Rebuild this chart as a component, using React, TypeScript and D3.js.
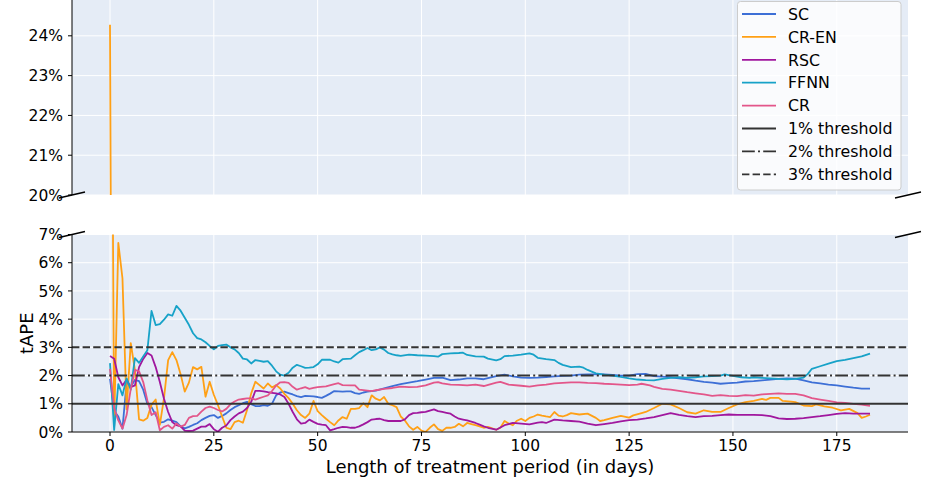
import React from 'react';
import * as d3 from 'd3';

type P = [number, number];

const X_TICKS = [0, 25, 50, 75, 100, 125, 150, 175];
const TOP_TICKS = [20, 21, 22, 23, 24];
const BOTTOM_TICKS = [0, 1, 2, 3, 4, 5, 6, 7];
const SERIES_NAMES = ['SC', 'CR-EN', 'RSC', 'FFNN', 'CR'];
const SERIES_COLORS = ['#3d6fd6', '#ffa015', '#a0179e', '#17a2c8', '#e3568a'];
const THRESHOLDS = [1, 2, 3];
const THRESHOLD_LABELS = ['1% threshold', '2% threshold', '3% threshold'];
const THRESHOLD_DASH = ['', '12.8,3.2,2,3.2', '7.4,3.2'];

const SC: P[] = [[0,1.88],[1,0.75],[2,0.55],[3,0.12],[4,1.75],[5,1.6],[6,1.85],[7,1.8],[8,1.5],[9,1.0],[10,0.88],[11,0.6],[12,0.33],[13,0.36],[14,0.45],[15,0.4],[16,0.35],[17,0.2],[18,0.13],[19,0.18],[20,0.25],[21,0.31],[22,0.42],[23,0.5],[24,0.57],[25,0.6],[26,0.5],[27,0.57],[28,0.66],[29,0.78],[30,0.88],[31,0.95],[32,1.02],[33,1.07],[34,0.99],[35,0.92],[36,0.92],[37,0.95],[38,0.93],[39,1.0],[40,1.3],[41,1.4],[42,1.43],[43,1.38],[44,1.33],[45,1.27],[46,1.24],[47,1.28],[48,1.27],[49,1.26],[50,1.24],[51,1.21],[52,1.28],[53,1.36],[54,1.45],[55,1.44],[56,1.43],[57,1.44],[58,1.44],[59,1.38],[60,1.35],[61,1.4],[62,1.43],[63,1.45],[64,1.47],[66,1.55],[68,1.63],[70,1.7],[72,1.75],[74,1.8],[76,1.86],[78,1.92],[80,1.93],[82,1.84],[84,1.86],[86,1.9],[88,1.9],[90,1.87],[93,1.98],[95,2.03],[97,1.97],[99,1.93],[101,1.92],[103,1.93],[105,1.95],[107,1.97],[109,1.99],[111,2.0],[113,2.03],[115,2.04],[117,2.04],[119,2.04],[121,2.02],[123,2.0],[125,2.0],[127,2.05],[129,2.06],[131,1.98],[133,1.96],[135,1.94],[137,1.9],[139,1.87],[141,1.82],[143,1.78],[145,1.75],[147,1.71],[149,1.73],[151,1.75],[153,1.79],[155,1.8],[157,1.83],[159,1.86],[161,1.88],[163,1.9],[165,1.89],[167,1.83],[169,1.76],[171,1.72],[173,1.68],[175,1.65],[177,1.61],[179,1.57],[181,1.54],[183,1.54]];

const CR_EN: P[] = [[0,24.28],[1,0.2],[2,6.7],[3,5.45],[4,0.8],[5,3.15],[6,2.2],[7,0.45],[8,0.4],[9,0.5],[10,0.97],[11,1.15],[12,0.25],[13,1.2],[14,2.55],[15,2.83],[16,2.55],[17,2.05],[18,1.43],[19,1.75],[20,2.3],[21,2.22],[22,2.31],[23,1.25],[24,1.78],[25,1.32],[26,0.95],[27,0.55],[28,0.15],[29,0.1],[30,0.35],[31,0.4],[32,0.33],[33,0.78],[34,1.37],[35,1.78],[36,1.66],[37,1.54],[38,1.72],[39,1.58],[40,1.66],[41,1.54],[42,1.35],[43,1.2],[44,1.0],[45,0.77],[46,0.6],[47,0.5],[48,0.65],[49,1.1],[50,0.74],[51,0.6],[52,0.47],[53,0.35],[54,0.24],[55,0.41],[56,0.53],[57,0.47],[58,0.82],[59,0.82],[60,0.85],[61,1.02],[62,0.88],[63,1.3],[64,1.18],[65,1.12],[66,1.24],[67,1.0],[68,0.95],[69,0.88],[70,0.55],[71,0.41],[72,0.2],[73,0.08],[74,0.18],[75,0.05],[76,0.0],[77,0.15],[78,0.27],[79,0.1],[80,0.04],[81,0.15],[82,0.15],[83,0.18],[84,0.29],[85,0.2],[86,0.32],[87,0.28],[88,0.24],[89,0.2],[90,0.15],[91,0.18],[93,0.08],[94,0.15],[95,0.39],[96,0.3],[97,0.24],[98,0.4],[99,0.47],[100,0.39],[101,0.5],[102,0.55],[103,0.62],[104,0.58],[105,0.55],[106,0.53],[107,0.71],[108,0.58],[109,0.55],[110,0.6],[111,0.67],[113,0.62],[115,0.65],[117,0.5],[118,0.39],[119,0.42],[121,0.5],[123,0.57],[125,0.51],[126,0.59],[128,0.67],[129,0.71],[131,0.85],[133,1.0],[135,0.98],[137,0.85],[139,0.7],[141,0.65],[143,0.77],[145,0.71],[147,0.71],[149,0.85],[151,0.98],[153,1.06],[155,1.1],[157,1.17],[158,1.14],[159,1.21],[161,1.21],[162,1.1],[164,1.08],[165,1.06],[167,0.94],[169,0.92],[170,0.98],[172,0.91],[174,0.86],[176,0.77],[178,0.82],[180,0.67],[181,0.5],[182,0.55],[183,0.61]];

const RSC: P[] = [[0,2.69],[1,2.6],[2,1.94],[3,1.65],[4,1.85],[5,1.59],[6,1.65],[7,2.3],[8,2.59],[9,2.8],[10,2.71],[11,2.3],[12,1.77],[13,1.18],[14,0.71],[15,0.35],[16,0.24],[17,0.2],[18,0.05],[19,0.04],[20,0.05],[21,0.12],[22,0.19],[23,0.19],[24,0.28],[25,0.1],[26,0.01],[27,0.15],[28,0.23],[29,0.42],[30,0.55],[31,0.66],[32,0.72],[33,0.85],[34,1.07],[35,1.46],[36,1.46],[37,1.44],[38,1.41],[39,1.39],[40,1.37],[41,1.33],[42,1.24],[43,1.0],[44,0.71],[45,0.45],[46,0.3],[47,0.32],[48,0.44],[49,0.36],[50,0.29],[51,0.26],[52,0.24],[53,0.06],[54,0.1],[55,0.15],[56,0.18],[57,0.17],[58,0.15],[59,0.15],[60,0.2],[61,0.27],[62,0.35],[63,0.44],[64,0.46],[65,0.47],[66,0.42],[67,0.39],[68,0.39],[69,0.39],[70,0.39],[71,0.45],[72,0.6],[73,0.67],[74,0.68],[75,0.7],[76,0.71],[77,0.76],[78,0.8],[79,0.74],[80,0.71],[81,0.68],[82,0.65],[83,0.55],[84,0.47],[85,0.44],[86,0.41],[87,0.37],[88,0.32],[89,0.26],[90,0.2],[91,0.15],[93,0.08],[95,0.24],[97,0.32],[99,0.3],[101,0.27],[103,0.33],[104,0.35],[105,0.32],[107,0.44],[109,0.41],[111,0.39],[113,0.37],[115,0.3],[117,0.24],[119,0.28],[121,0.32],[123,0.38],[125,0.42],[127,0.44],[129,0.48],[131,0.53],[133,0.6],[135,0.67],[137,0.61],[139,0.56],[141,0.53],[143,0.56],[145,0.57],[147,0.6],[149,0.62],[151,0.61],[153,0.61],[155,0.61],[157,0.6],[159,0.56],[161,0.48],[163,0.46],[165,0.47],[167,0.49],[169,0.53],[171,0.56],[173,0.6],[175,0.64],[177,0.67],[179,0.65],[181,0.65],[183,0.65]];

const FFNN: P[] = [[0,2.44],[1,0.07],[2,1.7],[3,1.3],[4,1.9],[5,1.5],[6,2.62],[7,2.45],[8,2.68],[9,2.9],[10,4.29],[11,3.79],[12,3.82],[13,3.98],[14,4.17],[15,4.12],[16,4.47],[17,4.3],[18,4.05],[19,3.8],[20,3.5],[21,3.33],[22,3.28],[23,3.18],[24,3.05],[25,2.93],[26,3.05],[27,3.08],[28,3.1],[29,3.0],[30,2.93],[31,2.8],[32,2.6],[33,2.57],[34,2.43],[35,2.55],[36,2.52],[37,2.49],[38,2.51],[39,2.35],[40,2.15],[41,2.03],[42,2.0],[43,2.1],[44,2.28],[45,2.38],[46,2.33],[47,2.27],[48,2.28],[49,2.3],[50,2.4],[51,2.56],[52,2.56],[53,2.56],[54,2.5],[55,2.46],[56,2.58],[57,2.59],[58,2.6],[59,2.72],[60,2.83],[61,2.9],[62,2.98],[63,2.9],[64,2.93],[65,3.0],[66,2.92],[67,2.8],[68,2.75],[69,2.72],[70,2.7],[72,2.74],[74,2.72],[76,2.71],[78,2.69],[79,2.67],[80,2.76],[82,2.79],[84,2.8],[85,2.81],[86,2.73],[88,2.68],[90,2.67],[91,2.6],[93,2.54],[94,2.58],[95,2.69],[97,2.71],[99,2.74],[101,2.79],[102,2.74],[103,2.63],[105,2.58],[107,2.55],[108,2.45],[109,2.38],[111,2.3],[113,2.32],[114,2.28],[115,2.2],[117,2.08],[119,2.03],[121,2.0],[123,1.95],[125,1.9],[127,1.86],[129,1.84],[131,1.83],[133,1.88],[135,1.92],[137,1.94],[139,1.92],[141,1.94],[143,1.97],[145,1.98],[147,2.0],[148,2.04],[150,1.99],[152,1.94],[154,1.92],[155,1.94],[157,1.92],[159,1.9],[161,1.88],[163,1.87],[165,1.88],[167,1.93],[168,2.05],[169,2.24],[171,2.33],[173,2.42],[175,2.51],[177,2.56],[179,2.62],[181,2.68],[183,2.78]];

const CR: P[] = [[0,2.24],[1,0.85],[2,0.41],[3,0.12],[4,0.6],[5,1.53],[6,2.2],[7,2.15],[8,1.77],[9,1.12],[10,0.6],[11,0.7],[12,0.06],[13,0.18],[14,0.24],[15,0.12],[16,0.3],[17,0.19],[18,0.25],[19,0.5],[20,0.56],[21,0.57],[22,0.72],[23,0.85],[24,0.9],[25,0.85],[26,0.78],[27,0.73],[28,0.82],[29,0.98],[30,1.08],[31,1.15],[32,1.17],[33,1.19],[34,1.19],[35,1.15],[36,1.2],[37,1.25],[38,1.3],[39,1.45],[40,1.65],[41,1.76],[42,1.77],[43,1.74],[44,1.6],[45,1.5],[46,1.55],[47,1.59],[48,1.53],[49,1.56],[50,1.59],[52,1.62],[54,1.7],[55,1.73],[56,1.66],[58,1.65],[59,1.65],[60,1.5],[62,1.47],[63,1.45],[64,1.48],[66,1.53],[68,1.56],[70,1.61],[72,1.59],[74,1.6],[76,1.65],[78,1.75],[79,1.77],[80,1.72],[82,1.68],[84,1.67],[86,1.65],[88,1.68],[90,1.63],[93,1.75],[94,1.78],[96,1.68],[99,1.64],[101,1.61],[103,1.65],[105,1.68],[107,1.72],[109,1.74],[111,1.76],[113,1.76],[115,1.74],[117,1.73],[119,1.71],[121,1.7],[123,1.68],[125,1.66],[127,1.68],[128,1.71],[130,1.65],[131,1.6],[133,1.53],[135,1.5],[137,1.46],[139,1.41],[141,1.37],[143,1.33],[145,1.28],[147,1.31],[149,1.28],[151,1.27],[153,1.31],[155,1.29],[157,1.33],[159,1.35],[161,1.37],[163,1.35],[165,1.35],[167,1.3],[169,1.2],[171,1.15],[173,1.1],[175,1.05],[177,1.03],[179,1.0],[181,0.97],[183,0.93]];

const SERIES_DATA = [SC, CR_EN, RSC, FFNN, CR];

const FONT = 'DejaVu Sans, sans-serif';

export default function App() {
  const W = 930, H = 482;
  const L = 72, R = 908;
  const topY0 = 0, topY1 = 195;
  const botY0 = 234.5, botY1 = 432;
  const x = d3.scaleLinear().domain([-9.15, 192.15]).range([L, R]);
  const yTop = d3.scaleLinear().domain([20, 24.9]).range([topY1, topY0]);
  const yBot = d3.scaleLinear().domain([0, 7]).range([botY1, botY0]);
  const lineTop = d3.line<P>().x(d => x(d[0])).y(d => yTop(d[1]));
  const lineBot = d3.line<P>().x(d => x(d[0])).y(d => yBot(d[1]));
  const bg = '#e5ecf6';
  const tickLen = 4;
  const tickFs = 15.5;
  const seriesW = 1.8;

  const breakMark = (cx: number, cy: number, k: string) => (
    <line key={k} x1={cx - 13} y1={cy + 3} x2={cx + 13} y2={cy - 3} stroke="#000" strokeWidth={1.3} />
  );

  const legendRows = [
    ...SERIES_NAMES.map((n, i) => ({ label: n, color: SERIES_COLORS[i], dash: '' })),
    ...THRESHOLD_LABELS.map((n, i) => ({ label: n, color: '#333', dash: THRESHOLD_DASH[i] })),
  ];

  return (
    <svg width={W} height={H} style={{ position: 'absolute', left: 0, top: 0, display: 'block', background: '#fff' }} fontFamily={FONT}>
      <defs>
        <clipPath id="clipTop"><rect x={L} y={topY0} width={R - L} height={topY1 - topY0} /></clipPath>
        <clipPath id="clipBot"><rect x={L} y={botY0} width={R - L} height={botY1 - botY0} /></clipPath>
      </defs>

      {/* Top panel */}
      <rect x={L} y={topY0} width={R - L} height={topY1 - topY0} fill={bg} />
      {TOP_TICKS.map(t => <line key={'gt' + t} x1={L} x2={R} y1={yTop(t)} y2={yTop(t)} stroke="#fff" strokeWidth={1} />)}
      {X_TICKS.map(t => <line key={'gxt' + t} x1={x(t)} x2={x(t)} y1={topY0} y2={topY1} stroke="#fff" strokeWidth={1} />)}
      <g clipPath="url(#clipTop)">
        {SERIES_DATA.map((d, i) => <path key={'st' + i} d={lineTop(d) || ''} fill="none" stroke={SERIES_COLORS[i]} strokeWidth={seriesW} strokeLinejoin="round" />)}
      </g>
      <line x1={L} x2={L} y1={topY0} y2={topY1} stroke="#000" strokeWidth={1} />
      {TOP_TICKS.map(t => (
        <g key={'tt' + t}>
          <line x1={L - tickLen} x2={L} y1={yTop(t)} y2={yTop(t)} stroke="#000" strokeWidth={1} />
          <text x={63} y={yTop(t) + 5.6} textAnchor="end" fontSize={tickFs} fill="#000">{t + '%'}</text>
        </g>
      ))}

      {/* Bottom panel */}
      <rect x={L} y={botY0} width={R - L} height={botY1 - botY0} fill={bg} />
      {BOTTOM_TICKS.map(t => <line key={'gb' + t} x1={L} x2={R} y1={yBot(t)} y2={yBot(t)} stroke="#fff" strokeWidth={1} />)}
      {X_TICKS.map(t => <line key={'gxb' + t} x1={x(t)} x2={x(t)} y1={botY0} y2={botY1} stroke="#fff" strokeWidth={1} />)}
      <g clipPath="url(#clipBot)">
        {SERIES_DATA.map((d, i) => <path key={'sb' + i} d={lineBot(d) || ''} fill="none" stroke={SERIES_COLORS[i]} strokeWidth={seriesW} strokeLinejoin="round" />)}
        {THRESHOLDS.map((t, i) => (
          <line key={'th' + t} x1={L} x2={R} y1={yBot(t)} y2={yBot(t)} stroke="#333" strokeWidth={2} strokeDasharray={THRESHOLD_DASH[i] || undefined} />
        ))}
      </g>
      <line x1={L} x2={L} y1={botY0} y2={botY1} stroke="#000" strokeWidth={1} />
      <line x1={L} x2={R} y1={botY1} y2={botY1} stroke="#000" strokeWidth={1} />
      {BOTTOM_TICKS.map(t => (
        <g key={'bt' + t}>
          <line x1={L - tickLen} x2={L} y1={yBot(t)} y2={yBot(t)} stroke="#000" strokeWidth={1} />
          <text x={63} y={yBot(t) + 5.6} textAnchor="end" fontSize={tickFs} fill="#000">{t + '%'}</text>
        </g>
      ))}
      {X_TICKS.map(t => (
        <g key={'xt' + t}>
          <line x1={x(t)} x2={x(t)} y1={botY1} y2={botY1 + tickLen} stroke="#000" strokeWidth={1} />
          <text x={x(t)} y={451} textAnchor="middle" fontSize={tickFs} fill="#000">{String(t)}</text>
        </g>
      ))}

      {/* Break marks */}
      {breakMark(L, topY1, 'b1')}
      {breakMark(R, topY1, 'b2')}
      {breakMark(L, botY0, 'b3')}
      {breakMark(R, botY0, 'b4')}

      {/* Axis labels */}
      <text x={490} y={473} textAnchor="middle" fontSize={18} fill="#000">Length of treatment period (in days)</text>
      <text transform={`translate(33, ${(botY0 + botY1) / 2}) rotate(-90)`} textAnchor="middle" fontSize={18} fill="#000">tAPE</text>

      {/* Legend */}
      <rect x={737.5} y={1.5} width={163.5} height={188.5} rx={3} fill="#fff" fillOpacity={0.8} stroke="#ccc" strokeWidth={1} />
      {legendRows.map((r, i) => {
        const cy = 14 + i * 22.9;
        return (
          <g key={'lg' + i}>
            <line x1={742} x2={776} y1={cy} y2={cy} stroke={r.color} strokeWidth={seriesW} strokeDasharray={r.dash || undefined} />
            <text x={788} y={cy + 5.7} fontSize={15.8} fill="#000">{r.label}</text>
          </g>
        );
      })}
    </svg>
  );
}
